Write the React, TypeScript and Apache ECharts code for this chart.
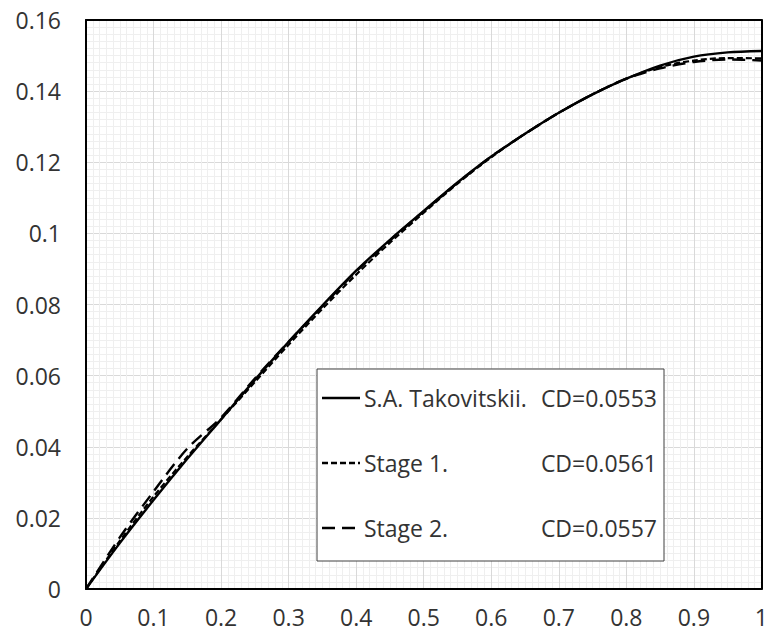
import React, { useEffect, useRef } from "react";
import * as echarts from "echarts";

const xValues = [0, 0.05, 0.1, 0.15, 0.2, 0.25, 0.3, 0.35, 0.4, 0.45, 0.5, 0.55, 0.6, 0.65, 0.7, 0.75, 0.8, 0.85, 0.9, 0.95, 1];
const takovitskii = [0, 0.0129, 0.025, 0.0366, 0.0477, 0.0588, 0.0695, 0.0797, 0.0895, 0.0982, 0.1063, 0.1143, 0.1216, 0.128, 0.1339, 0.1391, 0.1435, 0.1472, 0.1497, 0.1509, 0.1513];
const stage1 = [0, 0.0135, 0.026, 0.0372, 0.0477, 0.0582, 0.0687, 0.0788, 0.0884, 0.0974, 0.1058, 0.114, 0.1214, 0.128, 0.1339, 0.1391, 0.1435, 0.1468, 0.1486, 0.1493, 0.1492];
const stage2 = [0, 0.0145, 0.0274, 0.0395, 0.0482, 0.0592, 0.0695, 0.0795, 0.0893, 0.098, 0.1062, 0.1142, 0.1216, 0.128, 0.1339, 0.1391, 0.1435, 0.1464, 0.1482, 0.1489, 0.1486];

const seriesNames = ["S.A. Takovitskii.", "Stage 1.", "Stage 2."];
const cdLabels = ["CD=0.0553", "CD=0.0561", "CD=0.0557"];

const FONT = "'Open Sans', 'Noto Sans', sans-serif";
const TEXT_COLOR = "#333333";

export default function App() {
  const ref = useRef<HTMLDivElement>(null);
  useEffect(() => {
    if (!ref.current) return;
    const chart = echarts.init(ref.current, undefined, { renderer: "svg" });
    const pairs = (ys: number[]) => xValues.map((x, i) => [x, ys[i]]);
    const legendLeft = 317;
    const legendTop = 369;
    const rowY = [398, 463, 528];
    const dashes: (number[] | null)[] = [null, [6, 3], [13, 7]];
    const legendEls: any[] = [
      {
        type: "rect",
        shape: { x: legendLeft, y: legendTop, width: 347, height: 192 },
        style: { fill: "#fff", stroke: "#404040", lineWidth: 1 },
        z: 100,
      },
    ];
    seriesNames.forEach((name, i) => {
      legendEls.push({
        type: "line",
        shape: { x1: 322, y1: rowY[i], x2: 360, y2: rowY[i] },
        style: { stroke: "#000", lineWidth: 2.4, lineDash: dashes[i] || undefined },
        z: 101,
      });
      legendEls.push({
        type: "text",
        x: 364,
        y: rowY[i],
        style: {
          text: name,
          fill: TEXT_COLOR,
          font: `23px ${FONT}`,
          verticalAlign: "middle",
          align: "left",
        },
        z: 101,
      });
      legendEls.push({
        type: "text",
        x: 657,
        y: rowY[i],
        style: {
          text: cdLabels[i],
          fill: TEXT_COLOR,
          font: `23px ${FONT}`,
          verticalAlign: "middle",
          align: "right",
        },
        z: 101,
      });
    });

    const axisLabel = { color: TEXT_COLOR, fontFamily: FONT, fontSize: 23 };
    chart.setOption({
      animation: false,
      backgroundColor: "#fff",
      grid: { left: 86, right: 7, top: 20, bottom: 51, containLabel: false },
      xAxis: [
        {
          type: "value",
          min: 0,
          max: 1,
          interval: 0.1,
          axisLine: { show: true, onZero: false, lineStyle: { color: "#000", width: 2 } },
          axisTick: { show: false },
          axisLabel: { ...axisLabel, margin: 16 },
          splitLine: { show: true, lineStyle: { color: "#d9d9d9", width: 1 } },
          minorTick: { show: false, splitNumber: 10 },
          minorSplitLine: { show: true, lineStyle: { color: "#efefef", width: 1 } },
        },
        {
          type: "value",
          position: "top",
          min: 0,
          max: 1,
          axisLine: { show: true, onZero: false, lineStyle: { color: "#000", width: 2 } },
          axisTick: { show: false },
          axisLabel: { show: false },
          splitLine: { show: false },
        },
      ],
      yAxis: [
        {
          type: "value",
          min: 0,
          max: 0.16,
          interval: 0.02,
          axisLine: { show: true, onZero: false, lineStyle: { color: "#000", width: 2 } },
          axisTick: { show: false },
          axisLabel: { ...axisLabel, margin: 25 },
          splitLine: { show: true, lineStyle: { color: "#d9d9d9", width: 1 } },
          minorTick: { show: false, splitNumber: 10 },
          minorSplitLine: { show: true, lineStyle: { color: "#efefef", width: 1 } },
        },
        {
          type: "value",
          position: "right",
          min: 0,
          max: 0.16,
          axisLine: { show: true, onZero: false, lineStyle: { color: "#000", width: 2 } },
          axisTick: { show: false },
          axisLabel: { show: false },
          splitLine: { show: false },
        },
      ],
      series: [
        {
          name: seriesNames[2],
          type: "line",
          data: pairs(stage2),
          showSymbol: false,
          smooth: 0.3,
          lineStyle: { color: "#000", width: 2.4, type: [13, 7] },
          z: 2,
        },
        {
          name: seriesNames[1],
          type: "line",
          data: pairs(stage1),
          showSymbol: false,
          smooth: 0.3,
          lineStyle: { color: "#000", width: 2.2, type: [6, 3] },
          z: 3,
        },
        {
          name: seriesNames[0],
          type: "line",
          data: pairs(takovitskii),
          showSymbol: false,
          smooth: 0.3,
          lineStyle: { color: "#000", width: 2.4, type: "solid" },
          z: 4,
        },
      ],
      graphic: legendEls,
    });
    return () => chart.dispose();
  }, []);
  return (
    <div
      ref={ref}
      style={{ position: "fixed", left: 0, top: 0, width: 771, height: 640, background: "#fff" }}
    />
  );
}
